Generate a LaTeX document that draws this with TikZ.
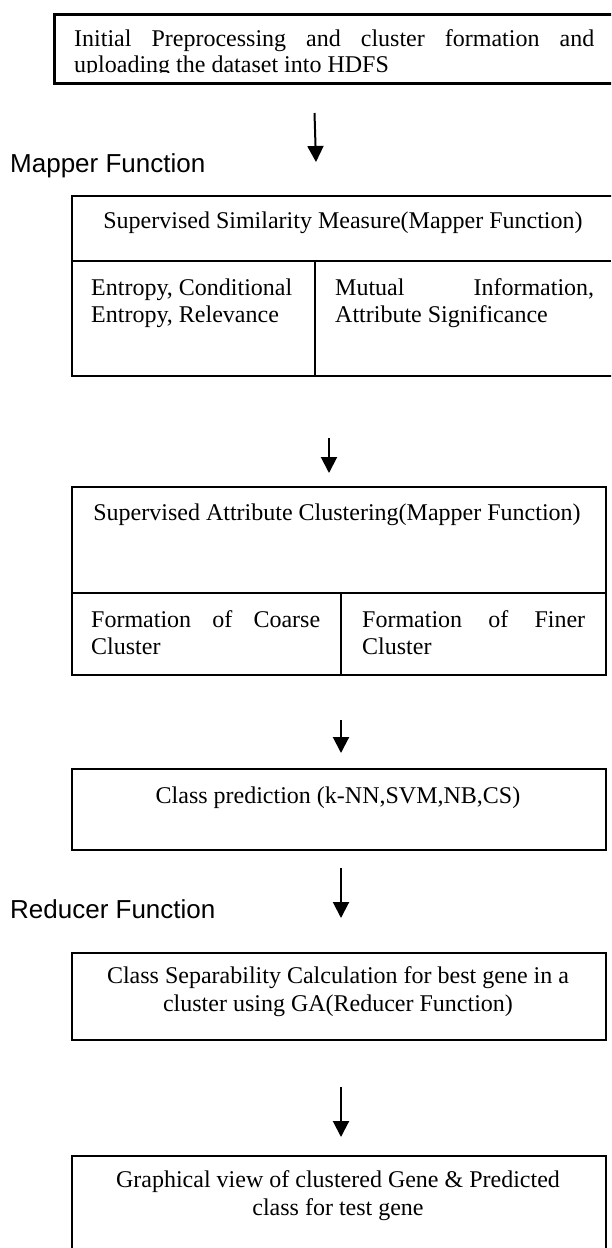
\documentclass[tikz,border=0pt]{standalone}
\usepackage{fontspec}
\setmainfont{Liberation Serif}
\newfontfamily\arialf{Liberation Sans}
\usetikzlibrary{arrows.meta}
\begin{document}
\begin{tikzpicture}[x=1pt,y=-1pt,
  box/.style={draw, line width=2pt, inner sep=0pt, anchor=north west},
  rule/.style={line width=2pt},
  txt/.style={inner sep=0pt, font=\fontsize{24}{27}\selectfont},
  lbl/.style={inner sep=0pt, font=\arialf\fontsize{26}{29}\selectfont},
  flow/.style={line width=2pt, -{Triangle[width=16pt,length=16pt]}}]
\useasboundingbox (0,0) rectangle (611,1248);
\clip (0,0) rectangle (611,1248);

% top box
\node[box, line width=2.8pt, minimum width=620pt, minimum height=69pt] (b1) at (53,13) {};
\node[txt, anchor=base west] (t1a) at (74,46) {\makebox[520pt][s]{Initial Preprocessing and cluster formation and}};
\begin{scope}
  \clip (60,55) rectangle (611,72);
  \node[txt, anchor=base west] (t1b) at (74,72) {uploading the dataset into HDFS};
\end{scope}

\coordinate (a1s) at (314.5,113);
\coordinate (a1e) at (316,162);
\draw[flow] (a1s) -- (a1e);

\node[lbl, anchor=base west] (mf) at (10,172) {Mapper Function};

% box 2
\node[box, minimum width=600pt, minimum height=180pt] (b2) at (71,195) {};
\draw[rule] (71,261) -- (611,261);
\draw[rule] (315,261) -- (315,375);
\node[txt, anchor=base] (t2) at (343,228) {Supervised Similarity Measure(Mapper Function)};
\node[txt, anchor=base west] (t2a) at (91,295) {Entropy, Conditional};
\node[txt, anchor=base west] (t2b) at (91,322) {Entropy, Relevance};
\node[txt, anchor=base west] (t2c) at (335,295) {\makebox[259pt][s]{Mutual Information,}};
\node[txt, anchor=base west] (t2d) at (335,322) {Attribute Significance};

\coordinate (a2s) at (329,438);
\coordinate (a2e) at (329,473);
\draw[flow] (a2s) -- (a2e);

% box 3
\node[box, minimum width=534pt, minimum height=188pt] (b3) at (71,486) {};
\draw[rule] (71,593) -- (605,593);
\draw[rule] (341,593) -- (341,674);
\node[txt, anchor=base] (t3) at (337,520) {Supervised Attribute Clustering(Mapper Function)};
\node[txt, anchor=base west] (t3a) at (91,627) {\makebox[229pt][s]{Formation of Coarse}};
\node[txt, anchor=base west] (t3b) at (91,654) {Cluster};
\node[txt, anchor=base west] (t3c) at (362,627) {\makebox[223pt][s]{Formation of Finer}};
\node[txt, anchor=base west] (t3d) at (362,654) {Cluster};

\coordinate (a3s) at (341,720);
\coordinate (a3e) at (341,753);
\draw[flow] (a3s) -- (a3e);

% box 4
\node[box, minimum width=534pt, minimum height=81pt] (b4) at (71,768) {};
\node[txt, anchor=base] (t4) at (338,803) {Class prediction (k-NN,SVM,NB,CS)};

\coordinate (a4s) at (341,868);
\coordinate (a4e) at (341,918);
\draw[flow] (a4s) -- (a4e);
\node[lbl, anchor=base west] (rf) at (10,918) {Reducer Function};

% box 5
\node[box, minimum width=534pt, minimum height=87pt] (b5) at (71,952) {};
\node[txt, anchor=base] (t5a) at (338,983) {Class Separability Calculation for best gene in a};
\node[txt, anchor=base] (t5b) at (338,1011) {cluster using GA(Reducer Function)};

\coordinate (a5s) at (341,1087);
\coordinate (a5e) at (341,1137);
\draw[flow] (a5s) -- (a5e);

% box 6
\node[box, minimum width=534pt, minimum height=120pt] (b6) at (71,1155) {};
\node[txt, anchor=base] (t6a) at (338,1187) {Graphical view of clustered Gene \& Predicted};
\node[txt, anchor=base] (t6b) at (338,1215) {class for test gene};
\end{tikzpicture}
\end{document}
